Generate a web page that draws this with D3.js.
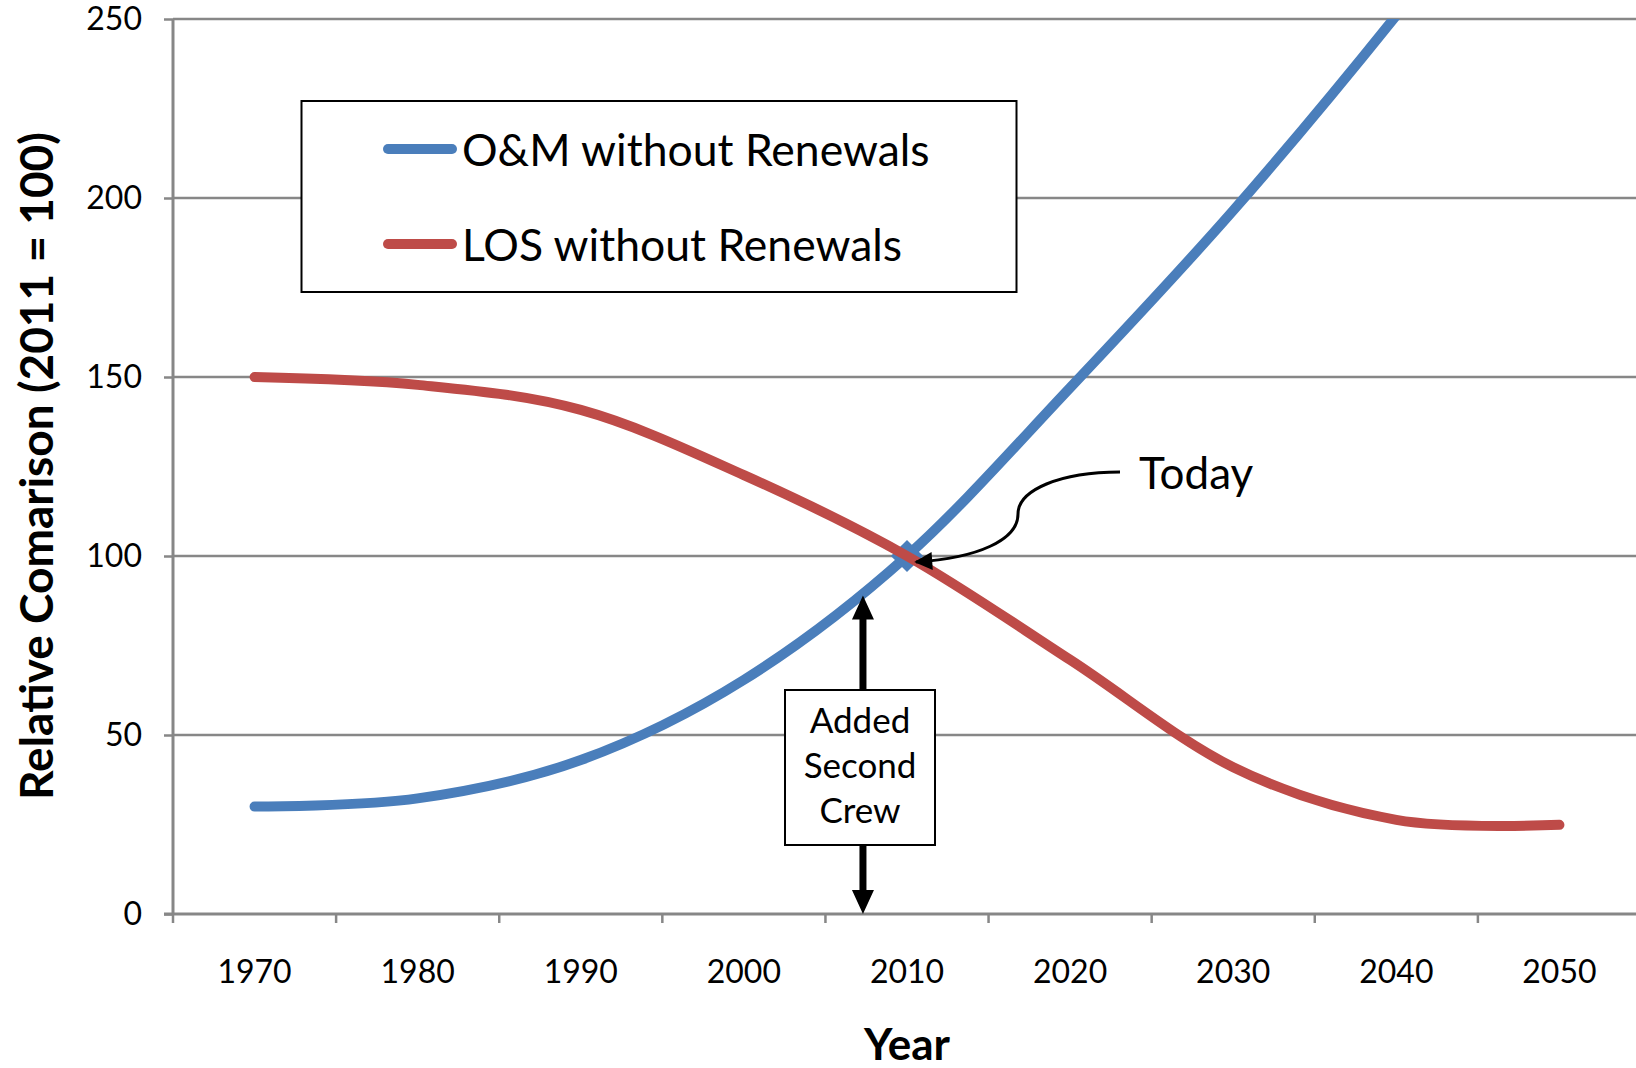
<!DOCTYPE html>
<html>
<head>
<meta charset="utf-8">
<script src="https://cdn.jsdelivr.net/npm/d3@7"></script>
<style>
  body { margin: 0; background: #fff; }
  svg { display: block; font-family: Lato, "Open Sans", sans-serif; }
  .tick-label { font-size: 32px; fill: #000; font-family: Lato, "Open Sans", sans-serif; }
  .axis-title { font-weight: bold; fill: #000; }
</style>
</head>
<body>
<svg class="chart"></svg>
<script>
// Chart values
var years = [1970, 1980, 1990, 2000, 2010, 2020, 2030, 2040, 2050];
var omValues = [30, 32.3, 43, 65.4, 100, 147, 196.5, 251, 310];
var losValues = [150, 147.8, 140.8, 122.6, 100, 71, 41, 26.3, 24.9];
var yTicks = [0, 50, 100, 150, 200, 250];
var xTickBounds = [1965, 1975, 1985, 1995, 2005, 2015, 2025, 2035, 2045];
var seriesNames = ["O&M without Renewals", "LOS without Renewals"];
var boxLines = ["Added", "Second", "Crew"];

var width = 1636, height = 1068;
var plot = {left: 173, right: 1636, top: 19, bottom: 914};

var svg = d3.select(".chart")
    .attr("width", width)
    .attr("height", height);

// Scales: categories sit in the middle of 10-year bins
var x = d3.scaleLinear()
    .domain([1965, 2055])
    .range([plot.left, 1641]);

var y = d3.scaleLinear()
    .domain([0, 250])
    .range([plot.bottom, plot.top]);

var blue = "#4a7ebb", red = "#be4b48", grey = "#878787";

// Gridlines
svg.append("g")
  .selectAll("line")
  .data(yTicks.filter(function(d) { return d > 0; }))
  .enter().append("line")
    .attr("x1", plot.left)
    .attr("x2", plot.right)
    .attr("y1", function(d) { return y(d); })
    .attr("y2", function(d) { return y(d); })
    .attr("stroke", grey)
    .attr("stroke-width", 2.5);

// Y axis
var yAxis = d3.axisLeft(y).tickValues(yTicks).tickSize(9).tickPadding(22);
var gy = svg.append("g")
    .attr("transform", "translate(" + plot.left + ",0)")
    .call(yAxis)
    .attr("font-family", null)
    .attr("font-size", null);
gy.select(".domain").remove();
gy.selectAll(".tick line").attr("stroke", grey).attr("stroke-width", 2.5);
gy.selectAll(".tick text").attr("class", "tick-label");
gy.append("line")
    .attr("x1", 0).attr("x2", 0)
    .attr("y1", plot.top).attr("y2", plot.bottom)
    .attr("stroke", grey).attr("stroke-width", 3);

// X axis: tick marks between categories, labels on categories
var gx = svg.append("g")
    .attr("transform", "translate(0," + plot.bottom + ")");
gx.append("line")
    .attr("x1", plot.left - 9).attr("x2", plot.right)
    .attr("stroke", grey).attr("stroke-width", 3);
gx.selectAll(".xtick")
  .data(xTickBounds)
  .enter().append("line")
    .attr("class", "xtick")
    .attr("x1", function(d) { return x(d); })
    .attr("x2", function(d) { return x(d); })
    .attr("y1", 0).attr("y2", 9)
    .attr("stroke", grey).attr("stroke-width", 2.5);
gx.selectAll(".tick-label")
  .data(years)
  .enter().append("text")
    .attr("class", "tick-label")
    .attr("x", function(d) { return x(d); })
    .attr("y", 69)
    .attr("text-anchor", "middle")
    .text(function(d) { return d; });

// Axis titles
svg.append("text")
    .attr("class", "axis-title")
    .attr("font-size", 46)
    .attr("transform", "translate(53,466) rotate(-90)")
    .attr("text-anchor", "middle")
    .text("Relative Comarison (2011 = 100)");

svg.append("text")
    .attr("class", "axis-title")
    .attr("font-size", 44)
    .attr("x", 907)
    .attr("y", 1060)
    .attr("text-anchor", "middle")
    .text("Year");

// Clip lines to plot area
svg.append("clipPath")
    .attr("id", "plot-clip")
  .append("rect")
    .attr("x", plot.left)
    .attr("y", plot.top)
    .attr("width", plot.right - plot.left)
    .attr("height", plot.bottom - plot.top);

var line = d3.line()
    .x(function(d) { return x(d[0]); })
    .y(function(d) { return y(d[1]); })
    .curve(d3.curveCardinal.tension(0));

var lines = svg.append("g").attr("clip-path", "url(#plot-clip)");

lines.append("path")
    .datum(d3.zip(years, omValues))
    .attr("d", line)
    .attr("fill", "none")
    .attr("stroke", blue)
    .attr("stroke-width", 10)
    .attr("stroke-linecap", "round")
    .attr("stroke-linejoin", "round");

// Diamond marker at 2010 on the O&M series
lines.append("path")
    .attr("d", d3.symbol(d3.symbolSquare, 520)())
    .attr("transform", "translate(" + x(years[4]) + "," + y(omValues[4]) + ") rotate(45)")
    .attr("fill", blue);

lines.append("path")
    .datum(d3.zip(years, losValues))
    .attr("d", line)
    .attr("fill", "none")
    .attr("stroke", red)
    .attr("stroke-width", 10)
    .attr("stroke-linecap", "round")
    .attr("stroke-linejoin", "round");

// Legend
var legend = svg.append("g");
legend.append("rect")
    .attr("x", 301.5).attr("y", 101)
    .attr("width", 715).attr("height", 191)
    .attr("fill", "#fff")
    .attr("stroke", "#000")
    .attr("stroke-width", 2);

var legendRows = legend.selectAll(".row")
  .data(seriesNames)
  .enter().append("g")
    .attr("class", "row")
    .attr("transform", function(d, i) { return "translate(0," + (149 + i * 95) + ")"; });
legendRows.append("line")
    .attr("x1", 388).attr("x2", 452)
    .attr("stroke", function(d, i) { return i === 0 ? blue : red; })
    .attr("stroke-width", 10)
    .attr("stroke-linecap", "round");
legendRows.append("text")
    .attr("x", 462)
    .attr("y", 17)
    .attr("font-size", 44.5)
    .text(function(d) { return d; });

// Arrow heads
var defs = svg.append("defs");
defs.append("marker")
    .attr("id", "head-small")
    .attr("viewBox", "0 0 10 10")
    .attr("refX", 9).attr("refY", 5)
    .attr("markerWidth", 8).attr("markerHeight", 6)
    .attr("markerUnits", "strokeWidth")
    .attr("orient", "auto")
  .append("path")
    .attr("d", "M0,0L10,5L0,10Z")
    .attr("fill", "#000");

// "Today" callout
svg.append("path")
    .attr("d", "M1120,472 C1060,472 1018,490 1018,514 C1018,540 978,558 916,562")
    .attr("fill", "none")
    .attr("stroke", "#000")
    .attr("stroke-width", 3)
    .attr("marker-end", "url(#head-small)");

svg.append("text")
    .attr("x", 1139)
    .attr("y", 489)
    .attr("font-size", 44)
    .text("Today");

// "Added Second Crew" box with double arrow
var crewYear = 2007.3;
var cx = x(crewYear);
var boxTop = 690, boxBottom = 845;

function arrow(yFrom, yTo) {
  var dir = yTo < yFrom ? -1 : 1;
  var headLen = 24, headHalf = 11, shaft = 3.5;
  var base = yTo - dir * headLen;
  svg.append("path")
      .attr("d", "M" + (cx - shaft) + "," + yFrom +
                 "L" + (cx - shaft) + "," + base +
                 "L" + (cx - headHalf) + "," + base +
                 "L" + cx + "," + yTo +
                 "L" + (cx + headHalf) + "," + base +
                 "L" + (cx + shaft) + "," + base +
                 "L" + (cx + shaft) + "," + yFrom + "Z")
      .attr("fill", "#000");
}
arrow(boxTop, y(89));
arrow(boxBottom, y(0));

svg.append("rect")
    .attr("x", 785).attr("y", boxTop)
    .attr("width", 150).attr("height", boxBottom - boxTop)
    .attr("fill", "#fff")
    .attr("stroke", "#000")
    .attr("stroke-width", 2);

svg.append("text")
    .attr("text-anchor", "middle")
    .attr("font-size", 35)
  .selectAll("tspan")
  .data(boxLines)
  .enter().append("tspan")
    .attr("x", 860)
    .attr("y", function(d, i) { return 733 + i * 45; })
    .text(function(d) { return d; });
</script>
</body>
</html>
